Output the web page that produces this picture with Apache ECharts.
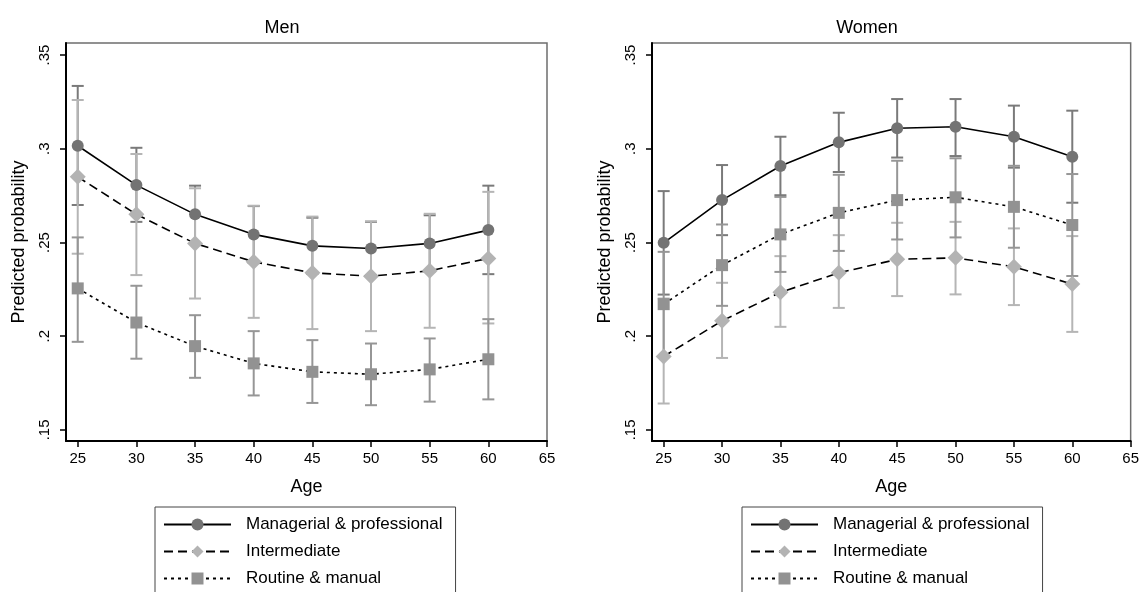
<!DOCTYPE html>
<html><head><meta charset="utf-8">
<script src="https://cdn.jsdelivr.net/npm/echarts@6/dist/echarts.min.js"></script>
<style>html,body{margin:0;padding:0;background:#fff}#c{width:1142px;height:592px}</style>
</head><body><div id="c"></div>
<script>
const ages = [25, 30, 35, 40, 45, 50, 55, 60];
const xTicks = [25, 30, 35, 40, 45, 50, 55, 60, 65];
const yTicks = [0.15, 0.2, 0.25, 0.3, 0.35];
const yTickLabels = ['.15', '.2', '.25', '.3', '.35'];
const seriesNames = ['Managerial & professional', 'Intermediate', 'Routine & manual'];
const panelTitles = ['Men', 'Women'];

// Men
const menMgr   = [0.3016, 0.2806, 0.2650, 0.2543, 0.2482, 0.2468, 0.2495, 0.2566];
const menMgrLo = [0.2700, 0.2610, 0.2497, 0.2390, 0.2332, 0.2326, 0.2345, 0.2331];
const menMgrHi = [0.3335, 0.3005, 0.2803, 0.2694, 0.2632, 0.2610, 0.2645, 0.2803];
const menInt   = [0.2850, 0.2650, 0.2495, 0.2397, 0.2338, 0.2320, 0.2349, 0.2415];
const menIntLo = [0.2440, 0.2326, 0.2201, 0.2098, 0.2038, 0.2027, 0.2045, 0.2068];
const menIntHi = [0.3260, 0.2972, 0.2789, 0.2696, 0.2638, 0.2613, 0.2653, 0.2770];
const menRou   = [0.2255, 0.2073, 0.1947, 0.1855, 0.1810, 0.1797, 0.1823, 0.1877];
const menRouLo = [0.1970, 0.1880, 0.1778, 0.1684, 0.1644, 0.1632, 0.1651, 0.1663];
const menRouHi = [0.2527, 0.2269, 0.2112, 0.2027, 0.1979, 0.1961, 0.1988, 0.2091];

// Women
const womMgr   = [0.2498, 0.2726, 0.2908, 0.3034, 0.3109, 0.3117, 0.3064, 0.2957];
const womMgrLo = [0.2222, 0.2539, 0.2752, 0.2876, 0.2953, 0.2961, 0.2899, 0.2712];
const womMgrHi = [0.2774, 0.2913, 0.3064, 0.3192, 0.3265, 0.3265, 0.3230, 0.3203];
const womInt   = [0.1892, 0.2082, 0.2234, 0.2338, 0.2410, 0.2418, 0.2370, 0.2278];
const womIntLo = [0.1641, 0.1884, 0.2050, 0.2151, 0.2214, 0.2223, 0.2166, 0.2023];
const womIntHi = [0.2201, 0.2285, 0.2427, 0.2539, 0.2605, 0.2610, 0.2575, 0.2534];
const womRou   = [0.2171, 0.2379, 0.2543, 0.2658, 0.2726, 0.2741, 0.2690, 0.2593];
const womRouLo = [0.1890, 0.2162, 0.2343, 0.2455, 0.2516, 0.2527, 0.2472, 0.2321];
const womRouHi = [0.2450, 0.2596, 0.2743, 0.2861, 0.2936, 0.2949, 0.2909, 0.2865];

const FONT = '"Liberation Sans", Arial, sans-serif';
const styles = [
  { marker: '#737373', ci: '#7a7a7a', symbol: 'circle', size: 12, dash: 'solid' },
  { marker: '#b3b3b3', ci: '#b5b5b5', symbol: 'diamond', size: 16, dash: [9, 5] },
  { marker: '#929292', ci: '#969696', symbol: 'rect', size: 12, dash: [3, 4] }
];
const panels = [
  { vals: [menMgr, menInt, menRou], lo: [menMgrLo, menIntLo, menRouLo], hi: [menMgrHi, menIntHi, menRouHi] },
  { vals: [womMgr, womInt, womRou], lo: [womMgrLo, womIntLo, womRouLo], hi: [womMgrHi, womIntHi, womRouHi] }
];

function errRender(color) {
  return function (params, api) {
    const x = api.value(0), lo = api.value(1), hi = api.value(2);
    const a = api.coord([x, lo]), b = api.coord([x, hi]);
    const hw = 6;
    const st = { stroke: color, lineWidth: 2 };
    return { type: 'group', children: [
      { type: 'line', shape: { x1: a[0], y1: a[1], x2: b[0], y2: b[1] }, style: st },
      { type: 'line', shape: { x1: a[0] - hw, y1: a[1], x2: a[0] + hw, y2: a[1] }, style: st },
      { type: 'line', shape: { x1: b[0] - hw, y1: b[1], x2: b[0] + hw, y2: b[1] }, style: st }
    ] };
  };
}

const gridLefts = [66, 652];
const series = [];
panels.forEach((p, pi) => {
  for (let k = 0; k < 3; k++) {
    series.push({
      type: 'custom', name: 'ci' + pi + k, xAxisIndex: pi, yAxisIndex: pi, z: 2,
      renderItem: errRender(styles[k].ci), clip: false,
      encode: { x: 0, y: [1, 2] },
      data: ages.map((a, i) => [a, p.lo[k][i], p.hi[k][i]])
    });
  }
  for (let k = 0; k < 3; k++) {
    series.push({
      type: 'line', name: seriesNames[k], xAxisIndex: pi, yAxisIndex: pi, z: 3 + k,
      symbol: styles[k].symbol, symbolSize: styles[k].size, showSymbol: true,
      itemStyle: { color: styles[k].marker, opacity: 1 },
      lineStyle: { color: '#000', width: 1.6, type: styles[k].dash },
      data: ages.map((a, i) => [a, p.vals[k][i]])
    });
  }
});

const option = {
  animation: false,
  backgroundColor: '#fff',
  title: panelTitles.map((t, i) => ({
    text: t, left: i ? 862 : 277, top: 14, textAlign: 'center',
    textStyle: { fontFamily: FONT, fontSize: 18, fontWeight: 'normal', color: '#000' }
  })),
  grid: gridLefts.map(l => ({
    left: l, top: 43, width: 481, height: 398, show: true,
    borderColor: '#6e6e6e', borderWidth: 1.5, backgroundColor: '#fff'
  })),
  xAxis: [0, 1].map(i => ({
    type: 'value', gridIndex: i, min: 24, max: 65,
    name: 'Age', nameLocation: 'middle', nameGap: 37,
    nameTextStyle: { fontFamily: FONT, fontSize: 18, color: '#000' },
    axisLine: { show: true, onZero: false, lineStyle: { color: '#000', width: 2 } },
    axisTick: { show: true, length: 6, customValues: xTicks, lineStyle: { color: '#000', width: 1.5 } },
    axisLabel: { customValues: xTicks, fontFamily: FONT, fontSize: 15, color: '#000', margin: 10 },
    splitLine: { show: false }
  })),
  yAxis: [0, 1].map(i => ({
    type: 'value', gridIndex: i, min: 0.1441, max: 0.3564,
    name: 'Predicted probability', nameLocation: 'middle', nameGap: 38, nameRotate: 90,
    nameTextStyle: { fontFamily: FONT, fontSize: 18, color: '#000' },
    axisLine: { show: true, onZero: false, lineStyle: { color: '#000', width: 2 } },
    axisTick: { show: true, length: 6, customValues: yTicks, lineStyle: { color: '#000', width: 1.5 } },
    axisLabel: {
      customValues: yTicks, rotate: 90, fontFamily: FONT, fontSize: 15, color: '#000', margin: 14,
      formatter: v => { const j = yTicks.findIndex(t => Math.abs(t - v) < 1e-6); return j >= 0 ? yTickLabels[j] : ''; }
    },
    splitLine: { show: false }
  })),
  legend: [0, 1].map(i => ({
    data: seriesNames, orient: 'vertical', left: i ? 742 : 155, top: 507, height: 140,
    itemWidth: 67, itemHeight: 15, itemGap: 10,
    borderColor: '#444', borderWidth: 1, padding: [9, 13, 12, 8],
    selectedMode: false,
    textStyle: { fontFamily: FONT, fontSize: 17, color: '#000', padding: [0, 0, 0, 10] }
  })),
  series: series
};
echarts.init(document.getElementById('c'), null, { renderer: 'canvas' }).setOption(option);
</script>
</body></html>
